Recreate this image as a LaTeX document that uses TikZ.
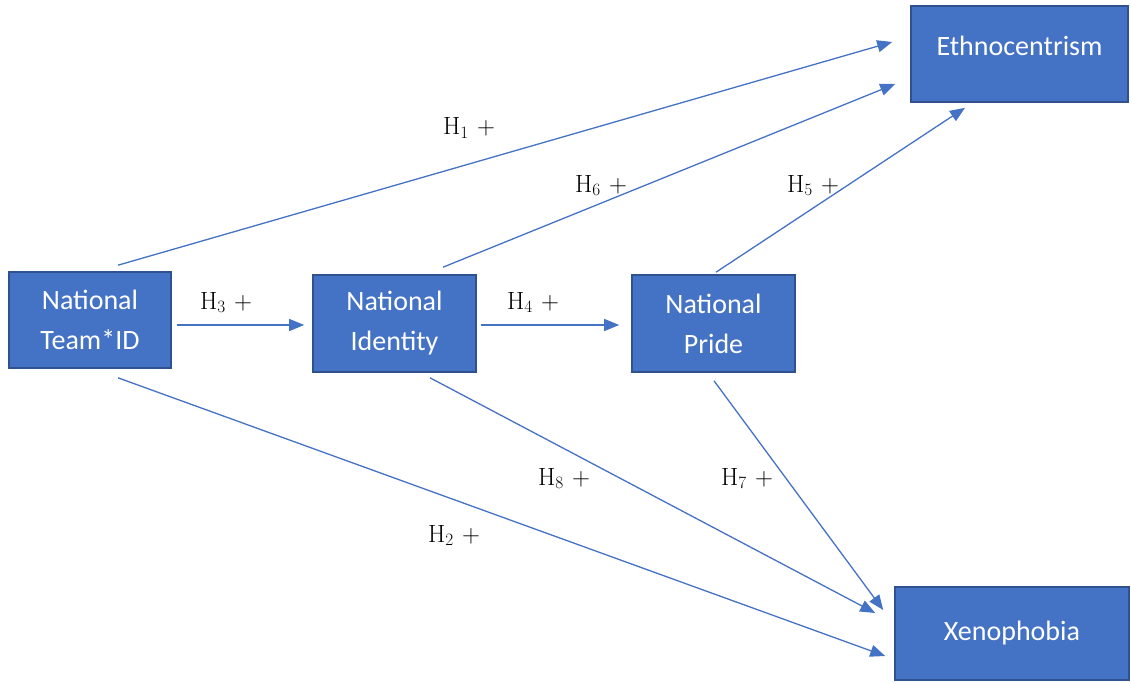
\documentclass[tikz,border=0pt]{standalone}
\usepackage[no-math]{fontspec}
\setmainfont{Carlito}
\usepackage{amsmath}
\usetikzlibrary{arrows.meta,calc}
\definecolor{boxblue}{HTML}{4472C4}
\definecolor{boxedge}{HTML}{2F528F}

\begin{document}
\begin{tikzpicture}[x=1pt, y=-1pt,
	box/.style={draw=boxedge, line width=1.6pt, fill=boxblue, text=white,
		align=center, inner sep=0pt, font=\fontsize{28}{40}\selectfont},
	link/.style={draw=boxblue, line width=1.3pt, -{Triangle[length=15pt,width=12pt]}},
	hyp/.style={anchor=base west, inner sep=0pt, font=\fontsize{27}{32}\selectfont}]

	\useasboundingbox (0, 0) rectangle (1131, 682);

	\node [box, minimum width=162, minimum height=96] (team) at (90, 320) {National\\Team*ID};
	\node [box, minimum width=163, minimum height=97] (ident) at (394.5, 323.5) {National\\Identity};
	\node [box, minimum width=163, minimum height=97] (pride) at (713.5, 323.5) {National\\Pride};
	\node [box, minimum width=217, minimum height=96] (ethno) at (1019.5, 54) {\raisebox{8pt}[\height][\depth]{Ethnocentrism}};
	\node [box, minimum width=234, minimum height=93] (xeno) at (1012, 633.5) {Xenophobia};

	\node [hyp] (h1) at (443, 135) {$\mathrm{H}_1\mkern6mu+$};
	\node [hyp] (h2) at (428, 542) {$\mathrm{H}_2\mkern6mu+$};
	\node [hyp] (h3) at (200, 309) {$\mathrm{H}_3\mkern6mu+$};
	\node [hyp] (h4) at (507, 309) {$\mathrm{H}_4\mkern6mu+$};
	\node [hyp] (h5) at (787, 192) {$\mathrm{H}_5\mkern6mu+$};
	\node [hyp] (h6) at (575, 192) {$\mathrm{H}_6\mkern6mu+$};
	\node [hyp] (h7) at (721, 485) {$\mathrm{H}_7\mkern6mu+$};
	\node [hyp] (h8) at (538, 485) {$\mathrm{H}_8\mkern6mu+$};

	% to ethnocentrism
	\draw [link] ($(team.north)+(28,-6)$) -- ($(ethno.west)+(-18,-12)$);
	\draw [link] ($(ident.north)+(48.5,-7)$) -- ($(ethno.west)+(-15,30)$);
	\draw [link] ($(pride.north)+(2.5,-2)$) -- ($(ethno.south)+(-54.5,5)$);

	% middle row
	\draw [link] ($(team.east)+(5,5)$) -- ($(ident.west)+(-8,1.5)$);
	\draw [link] ($(ident.east)+(4,1.5)$) -- ($(pride.west)+(-12,1.5)$);

	% to xenophobia
	\draw [link] ($(team.south)+(28,9)$) -- ($(xeno.west)+(-9,22.5)$);
	\draw [link] ($(ident.south)+(35.5,5)$) -- ($(xeno.west)+(-19,-20.5)$);
	\draw [link] ($(pride.south)+(0.5,8)$) -- ($(xeno.west)+(-11,-23.5)$);

\end{tikzpicture}
\end{document}
